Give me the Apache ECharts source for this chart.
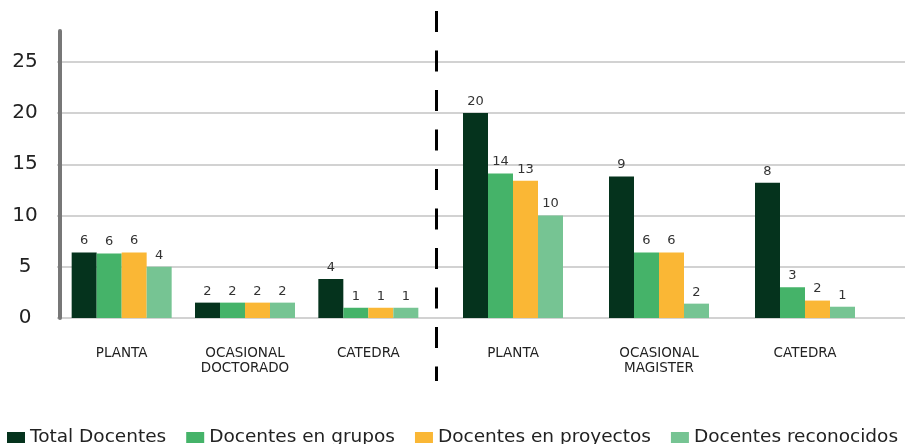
<!DOCTYPE html>
<html>
<head>
<meta charset="utf-8">
<script src="https://cdn.jsdelivr.net/npm/echarts@6/dist/echarts.min.js"></script>
<style>
  html, body { margin: 0; background: #fff; }
  #chart { width: 914px; height: 444px; }
</style>
</head>
<body>
<div id="chart"></div>
<script>
// categorias (izquierda: doctorado, derecha: magister)
const catsLeft = ['PLANTA', 'OCASIONAL\nDOCTORADO', 'CATEDRA']
const catsRight = ['PLANTA', 'OCASIONAL\nMAGISTER', 'CATEDRA']
const seriesNames = ['Total Docentes', 'Docentes en grupos', 'Docentes en proyectos', 'Docentes reconocidos']
const colors = ['#05331d', '#45b369', '#fab735', '#76c493']

// altura de las barras tal como estan dibujadas
const totalVals = [6.4, 1.5, 3.8, 20.0, 13.8, 13.2]
const gruposVals = [6.3, 1.5, 1.0, 14.1, 6.4, 3.0]
const proyectosVals = [6.4, 1.5, 1.0, 13.4, 6.4, 1.7]
const reconocidosVals = [5.0, 1.5, 1.0, 10.0, 1.4, 1.1]

// etiquetas impresas sobre las barras
const totalLbl = [6, 2, 4, 20, 9, 8]
const gruposLbl = [6, 2, 1, 14, 6, 3]
const proyectosLbl = [6, 2, 1, 13, 6, 2]
const reconocidosLbl = [4, 2, 1, 10, 2, 1]

const yTicks = [0, 5, 10, 15, 20, 25]

const allVals = [totalVals, gruposVals, proyectosVals, reconocidosVals]
const allLbl = [totalLbl, gruposLbl, proyectosLbl, reconocidosLbl]

const font = 'DejaVu Sans'
const chart = echarts.init(document.getElementById('chart'))

const gridTop = 31
const gridH = 287

const yBase = {
  type: 'value', min: 0, max: 28, interval: 5
}

const catLabel = { color: '#222', fontFamily: font, fontSize: 13.5, lineHeight: 15, margin: 28, interval: 0 }

// una serie por grupo (izq/der) para cada indicador
const series = []
seriesNames.forEach((name, i) => {
  ;[0, 1].forEach(side => {
    const off = side * 3
    series.push({
      name,
      type: 'bar',
      xAxisIndex: side,
      yAxisIndex: side,
      data: allVals[i].slice(off, off + 3),
      barWidth: 25,
      barGap: '0%',
      itemStyle: { color: colors[i] },
      label: {
        show: true,
        position: 'top',
        distance: 5,
        color: '#333',
        fontFamily: font,
        fontSize: 13,
        formatter: p => allLbl[i][off + p.dataIndex]
      },
      emphasis: { disabled: true }
    })
  })
})

chart.setOption({
  animation: false,
  grid: [
    { left: 60, width: 370, top: gridTop, height: gridH },
    { left: 440, width: 438, top: gridTop, height: gridH },
    { left: 57, right: 9, top: gridTop, height: gridH }
  ],
  xAxis: [
    {
      gridIndex: 0, type: 'category', data: catsLeft,
      axisLine: { show: false }, axisTick: { show: false },
      axisLabel: catLabel
    },
    {
      gridIndex: 1, type: 'category', data: catsRight,
      axisLine: { show: false }, axisTick: { show: false },
      axisLabel: catLabel
    },
    { gridIndex: 2, type: 'value', min: 0, max: 1, show: false }
  ],
  yAxis: [
    {
      ...yBase, gridIndex: 0,
      axisLine: { show: true, lineStyle: { color: '#777', width: 4 } },
      axisTick: { show: false },
      splitLine: { show: false },
      axisLabel: {
        color: '#222', fontFamily: font, fontSize: 20, align: 'center', margin: 35,
        showMaxLabel: false,
        formatter: v => (yTicks.includes(v) ? v : '')
      }
    },
    { ...yBase, gridIndex: 1, show: false, splitLine: { show: false } },
    {
      ...yBase, gridIndex: 2,
      axisLine: { show: false }, axisTick: { show: false }, axisLabel: { show: false },
      splitLine: { show: true, showMaxLine: false, lineStyle: { color: '#d2d2d2', width: 2 } },
      z: 0
    }
  ],
  legend: {
    left: 7,
    right: 0,
    top: 428,
    padding: 0,
    itemWidth: 18,
    itemHeight: 11,
    itemGap: 20,
    icon: 'rect',
    textStyle: { color: '#222', fontFamily: font, fontSize: 18.5 },
    data: seriesNames
  },
  graphic: [{
    type: 'line',
    shape: { x1: 436.5, y1: 11, x2: 436.5, y2: 381 },
    style: { stroke: '#000', lineWidth: 3, lineDash: [21, 18.5] },
    z: 100
  }],
  series
})

window.addEventListener('resize', () => chart.resize())
</script>
</body>
</html>
